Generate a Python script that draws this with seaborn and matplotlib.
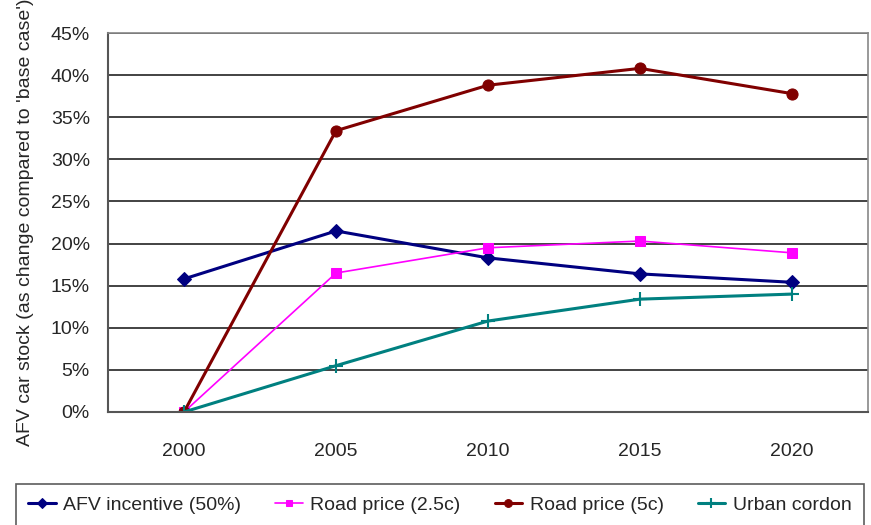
import matplotlib
matplotlib.use("Agg")
import matplotlib.pyplot as plt
import matplotlib.ticker as mticker
import numpy as np
import pandas as pd
import seaborn as sns

years = ["2000", "2005", "2010", "2015", "2020"]
afv_incentive = [15.8, 21.5, 18.3, 16.4, 15.4]
road_price_25 = [0.0, 16.5, 19.5, 20.3, 18.9]
road_price_5 = [0.0, 33.4, 38.8, 40.8, 37.8]
urban_cordon = [0.0, 5.5, 10.8, 13.4, 14.0]
series_names = ["AFV incentive (50%)", "Road price (2.5c)", "Road price (5c)", "Urban cordon"]
y_ticks = [0, 5, 10, 15, 20, 25, 30, 35, 40, 45]

sns.set_theme(style="white")
plt.rcParams["font.family"] = ["Liberation Sans", "DejaVu Sans"]

fig = plt.figure(figsize=(8.71, 5.25), dpi=100)
ax = fig.add_axes([108 / 871, 1 - 412 / 525, (868 - 108) / 871, (412 - 33) / 525])

styles = [
    dict(color="#000080", marker="D", markersize=7, linewidth=2.2),
    dict(color="#FF00FF", marker="s", markersize=7, linewidth=1.2),
    dict(color="#800000", marker="o", markersize=8, linewidth=2.2),
    dict(color="#008080", marker="+", markersize=10, linewidth=2.2, markeredgewidth=1.5),
]
data = [afv_incentive, road_price_25, road_price_5, urban_cordon]
x = np.arange(len(years))
for name, vals, st in zip(series_names, data, styles):
    df = pd.DataFrame({"x": x, "y": vals})
    sns.lineplot(data=df, x="x", y="y", ax=ax, label=name,
                 markeredgecolor=st["color"], **st)

ax.set_xlim(-0.5, len(years) - 0.5)
ax.set_ylim(0, 45)
ax.set_yticks(y_ticks)
ax.yaxis.set_major_formatter(mticker.FuncFormatter(lambda v, p: f"{int(v)}%"))
ax.set_xticks(np.arange(-0.5, len(years)), labels=[""] * (len(years) + 1))
ax.set_xticks(x, labels=years, minor=True)
ax.tick_params(axis="x", which="major", length=7, width=1.2, color="#555555", direction="out")
ax.tick_params(axis="x", which="minor", length=0, pad=22, labelsize=14)
ax.tick_params(axis="y", which="major", length=7, width=1.2, color="#333333", direction="out", pad=6, labelsize=14)
ax.yaxis.grid(True, color="#222222", linewidth=1.2)
ax.xaxis.grid(False)
ax.set_axisbelow(True)
for s in ["left", "bottom"]:
    ax.spines[s].set_color("#555555")
    ax.spines[s].set_linewidth(1.5)
ax.spines["right"].set_color("#888888")
ax.spines["right"].set_linewidth(1.2)
ax.spines["top"].set_color("#888888")
ax.spines["top"].set_linewidth(1.2)
ax.set_xlabel("")
ax.set_ylabel("AFV car stock (as change compared to 'base case')", fontsize=14, labelpad=12)

ax.get_legend().remove()
handles, labels = ax.get_legend_handles_labels()
leg = fig.legend(handles, labels, loc="upper center", bbox_to_anchor=(0.505, 1 - 484 / 525),
                 ncol=4, fontsize=14, frameon=True, fancybox=False, edgecolor="#333333",
                 handlelength=1.4, handletextpad=0.4, columnspacing=1.75, borderpad=0.65,
                 borderaxespad=0, markerscale=0.7)
leg.get_frame().set_linewidth(1.2)

fig.savefig("out.png", dpi=100)
